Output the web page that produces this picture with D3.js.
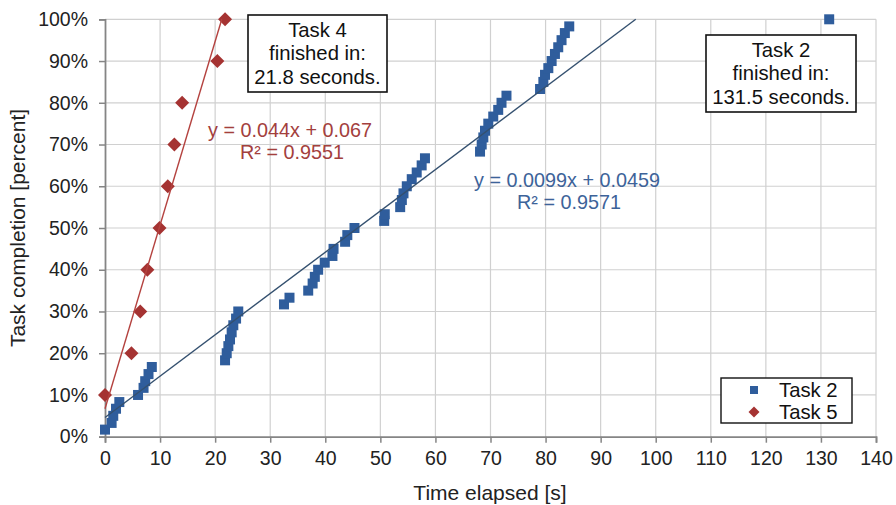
<!DOCTYPE html>
<html>
<head>
<meta charset="utf-8">
<script src="https://cdn.jsdelivr.net/npm/d3@7"></script>
<style>
  html, body { margin: 0; padding: 0; background: #fff; }
  svg { display: block; font-family: "Liberation Sans", Arial, sans-serif; }
</style>
</head>
<body>
<svg id="chart" width="896" height="505"></svg>
<script>
// ---- data ----
const task2X = [0.0, 1.2, 1.5, 2.0, 2.6, 6.0, 7.0, 7.3, 7.9, 8.5,
  21.8, 22.1, 22.4, 22.7, 23.0, 23.3, 23.8, 24.2,
  32.5, 33.5, 36.9, 37.7, 38.1, 38.7, 39.9, 41.3, 41.5, 43.6, 44.0, 45.3,
  50.7, 50.8, 53.6, 53.9, 54.2, 54.8, 55.7, 56.6, 57.5, 58.1,
  68.1, 68.4, 68.7, 69.0, 69.6, 70.5, 71.4, 72.0, 72.9,
  79.0, 79.6, 79.9, 80.5, 81.1, 81.7, 82.3, 82.9, 83.5, 84.3,
  131.5];
const task2Y = [0.017, 0.033, 0.050, 0.067, 0.083, 0.100, 0.117, 0.133, 0.150, 0.167,
  0.183, 0.200, 0.217, 0.233, 0.250, 0.267, 0.283, 0.300,
  0.317, 0.333, 0.350, 0.367, 0.383, 0.400, 0.417, 0.433, 0.450, 0.467, 0.483, 0.500,
  0.517, 0.533, 0.550, 0.567, 0.583, 0.600, 0.617, 0.633, 0.650, 0.667,
  0.683, 0.700, 0.717, 0.733, 0.750, 0.767, 0.783, 0.800, 0.817,
  0.833, 0.850, 0.867, 0.883, 0.900, 0.917, 0.933, 0.950, 0.967, 0.983,
  1.000];
const task5X = [0.0, 4.8, 6.4, 7.7, 9.9, 11.4, 12.6, 14.0, 20.4, 21.8];
const task5Y = [0.10, 0.20, 0.30, 0.40, 0.50, 0.60, 0.70, 0.80, 0.90, 1.00];

const trend2 = { slope: 0.0099, intercept: 0.0459, label: "y = 0.0099x + 0.0459", r2: "R² = 0.9571" };
const trend5 = { slope: 0.044, intercept: 0.067, label: "y = 0.044x + 0.067", r2: "R² = 0.9551" };

const xTicks = [0, 10, 20, 30, 40, 50, 60, 70, 80, 90, 100, 110, 120, 130, 140];
const yTicks = [0, 0.1, 0.2, 0.3, 0.4, 0.5, 0.6, 0.7, 0.8, 0.9, 1.0];
const legendNames = ["Task 2", "Task 5"];
const note4 = ["Task 4", "finished in:", "21.8 seconds."];
const note2 = ["Task 2", "finished in:", "131.5 seconds."];
const xTitle = "Time elapsed [s]";
const yTitle = "Task completion [percent]";

// ---- styles ----
const blue = "#2f5d9c";
const red = "#a53332";
const blueLine = "#34506f";
const redLine = "#b4423f";
const FS = 19.5;
const FT = 21;
const FN = 20.3;

const svg = d3.select("#chart");
const x = d3.scaleLinear().domain([0, 140]).range([105, 876]);
const y = d3.scaleLinear().domain([0, 1]).range([436.7, 19.3]);

// gridlines
svg.append("g").selectAll("line.h").data(yTicks.slice(1)).join("line")
  .attr("x1", x(0)).attr("x2", x(140))
  .attr("y1", d => y(d)).attr("y2", d => y(d))
  .attr("stroke", "#d0d0d0").attr("stroke-width", 1.2);
svg.append("g").selectAll("line.v").data(xTicks.slice(1)).join("line")
  .attr("x1", d => x(d)).attr("x2", d => x(d))
  .attr("y1", y(0)).attr("y2", y(1))
  .attr("stroke", "#d0d0d0").attr("stroke-width", 1.2);

// axes
const xAxis = svg.append("g").attr("transform", `translate(0,${y(0)})`)
  .call(d3.axisBottom(x).tickValues(xTicks).tickSize(6).tickPadding(8).tickFormat(d3.format("d")));
const yAxis = svg.append("g").attr("transform", `translate(${x(0)},0)`)
  .call(d3.axisLeft(y).tickValues(yTicks).tickSize(6).tickPadding(11).tickFormat(d3.format(".0%")));
[xAxis, yAxis].forEach(g => {
  g.select(".domain").attr("stroke", "#858585").attr("stroke-width", 1.8);
  g.selectAll(".tick line").attr("stroke", "#858585").attr("stroke-width", 1.5);
  g.selectAll(".tick text").attr("fill", "#222").style("font-size", FS + "px")
    .style("font-family", '"Liberation Sans", Arial, sans-serif');
});

// axis titles
svg.append("text").attr("x", 490).attr("y", 500).attr("text-anchor", "middle")
  .attr("fill", "#222").style("font-size", FT + "px").text(xTitle);
svg.append("text").attr("transform", "translate(25,228) rotate(-90)").attr("text-anchor", "middle")
  .attr("fill", "#222").style("font-size", FT + "px").text(yTitle);

// markers
const square = 10;
svg.append("g").selectAll("rect").data(task2X.map((v, i) => [v, task2Y[i]])).join("rect")
  .attr("x", d => x(d[0]) - square / 2).attr("y", d => y(d[1]) - square / 2)
  .attr("width", square).attr("height", square).attr("fill", blue);

const diamond = (cx, cy, r) => `M${cx},${cy - r}L${cx + r},${cy}L${cx},${cy + r}L${cx - r},${cy}Z`;
svg.append("g").selectAll("path").data(task5X.map((v, i) => [v, task5Y[i]])).join("path")
  .attr("d", d => diamond(x(d[0]), y(d[1]), 7)).attr("fill", red);

// trendlines (clipped at 100%)
function trendEnd(t) { return Math.min(140, (1 - t.intercept) / t.slope); }
[[trend2, blueLine], [trend5, redLine]].forEach(([t, c]) => {
  const x1 = trendEnd(t);
  svg.append("line")
    .attr("x1", x(0)).attr("y1", y(t.intercept))
    .attr("x2", x(x1)).attr("y2", y(t.intercept + t.slope * x1))
    .attr("stroke", c).attr("stroke-width", 1.4);
});

// equations
function eq(t, cx, cy, color) {
  svg.append("text").attr("x", cx).attr("y", cy).attr("text-anchor", "middle")
    .attr("fill", color).style("font-size", "19.8px").text(t.label);
  svg.append("text").attr("x", cx + 2).attr("y", cy + 22).attr("text-anchor", "middle")
    .attr("fill", color).style("font-size", "19.8px").text(t.r2);
}
eq(trend5, 290, 137, "#a3403d");
eq(trend2, 567, 187, "#3d6399");

// annotation boxes
function note(lines, x0, y0, w, h) {
  svg.append("rect").attr("x", x0).attr("y", y0).attr("width", w).attr("height", h)
    .attr("fill", "#fff").attr("stroke", "#111").attr("stroke-width", 1.6);
  lines.forEach((s, i) => {
    svg.append("text").attr("x", x0 + w / 2).attr("y", y0 + 22 + i * 23.3)
      .attr("text-anchor", "middle").attr("fill", "#111").style("font-size", FN + "px").text(s);
  });
}
note(note4, 248, 15, 139, 77);
note(note2, 706, 35, 150, 77);

// legend
svg.append("rect").attr("x", 721).attr("y", 378).attr("width", 131).attr("height", 45)
  .attr("fill", "#fff").attr("stroke", "#111").attr("stroke-width", 1.4);
svg.append("rect").attr("x", 750).attr("y", 386).attr("width", 8).attr("height", 8).attr("fill", blue);
svg.append("path").attr("d", diamond(754, 412, 5.5)).attr("fill", red);
legendNames.forEach((n, i) => {
  svg.append("text").attr("x", 779).attr("y", 397 + i * 22).attr("fill", "#111")
    .style("font-size", FN + "px").text(n);
});
</script>
</body>
</html>
